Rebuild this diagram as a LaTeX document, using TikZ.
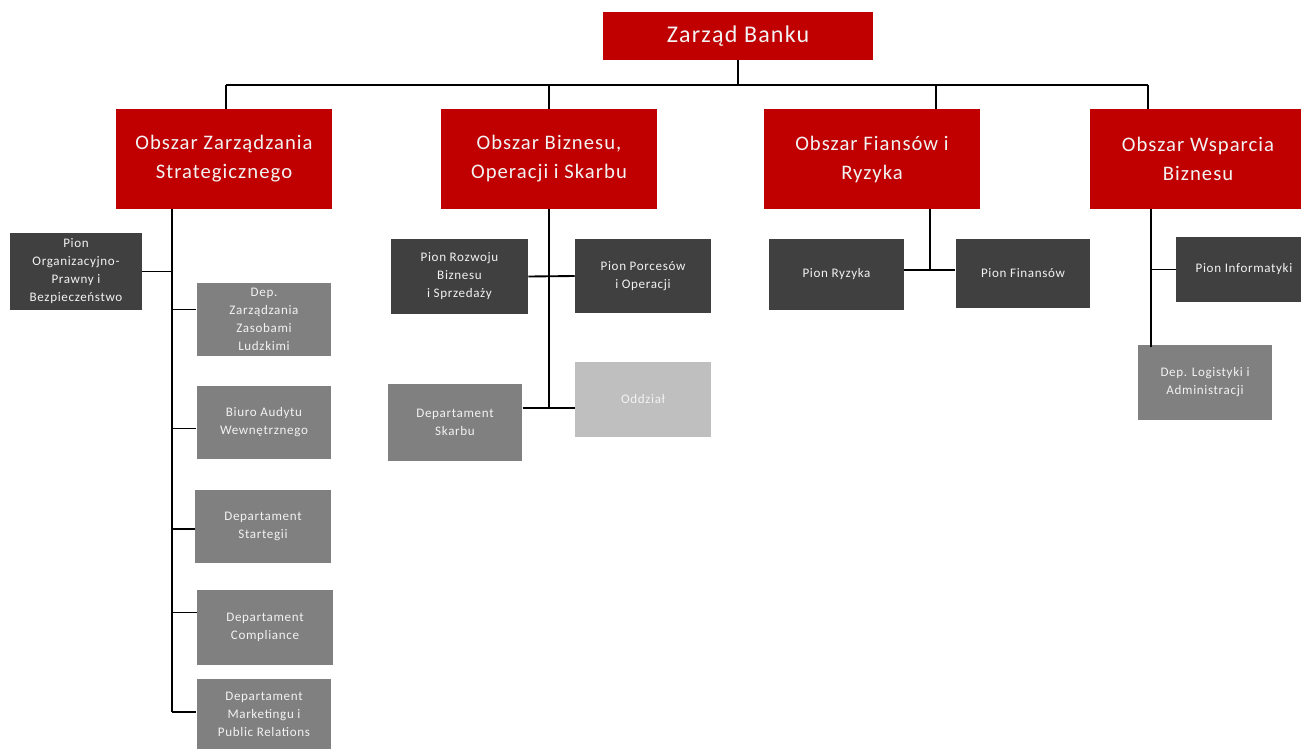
\documentclass[tikz,border=0pt]{standalone}
\usepackage{fontspec}
\setmainfont{Carlito}[LetterSpace=5]
\usepackage{tikz}
\usetikzlibrary{positioning,calc}
\definecolor{bankred}{RGB}{192, 0, 0}
\definecolor{piondark}{RGB}{64, 64, 64}
\definecolor{depgray}{RGB}{128, 128, 128}
\definecolor{deplight}{RGB}{191, 191, 191}
\definecolor{boxtext}{RGB}{242, 242, 242}

\begin{document}
\begin{tikzpicture}[x=0.75pt, y=-0.75pt,
  zarzad/.style={fill=bankred, text=boxtext, rectangle, inner sep=2pt, align=center, minimum width=202.5pt, minimum height=36pt, font=\fontsize{18}{22}\selectfont},
  obszar/.style={fill=bankred, text=boxtext, rectangle, inner sep=2pt, align=center, minimum width=162pt, minimum height=75pt, font=\fontsize{15.5}{21.75}\selectfont},
  pion/.style={fill=piondark, text=boxtext, rectangle, inner sep=2pt, align=center, minimum width=101pt, minimum height=55pt, font=\fontsize{9.8}{13.5}\selectfont},
  dep/.style={pion, fill=depgray},
  oddz/.style={pion, fill=deplight},
  conn/.style={draw=black, line width=1.4pt}
]
  \useasboundingbox (0,0) rectangle (1301,749);

  % Zarzad
  \node [zarzad] (zarzad) at (738,36) {Zarząd Banku};

  % Obszary
  \node [obszar] (obszar1) at (224,159) {Obszar Zarządzania\\Strategicznego};
  \node [obszar] (obszar2) at (549,159) {Obszar Biznesu,\\Operacji i Skarbu};
  \node [obszar] (obszar3) at (872,159) {Obszar Fiansów i\\Ryzyka};
  \node [obszar] (obszar4) at (1198,159) {Obszar Wsparcia\\Biznesu};

  % Obszar Zarzadzania Strategicznego
  \node [pion, minimum width=99pt, minimum height=58pt] (pionorg) at (76,271.5) {Pion\\Organizacyjno-\\Prawny i\\Bezpieczeństwo};
  \node [dep, minimum height=55pt] (depzzl) at (264,319.5) {Dep.\\Zarządzania\\Zasobami\\Ludzkimi};
  \node [dep, minimum height=55pt] (biuro) at (264,422.5) {Biuro Audytu\\Wewnętrznego};
  \node [dep, minimum width=102pt, minimum height=55pt] (depstrat) at (263,526.5) {Departament\\Startegii};
  \node [dep, minimum width=102pt, minimum height=56pt] (depcomp) at (265,627.5) {Departament\\Compliance};
  \node [dep, minimum height=53pt] (depmark) at (264,714) {Departament\\Marketingu i\\Public Relations};

  % Obszar Biznesu
  \node [pion, minimum width=103pt, minimum height=56pt] (pionrozw) at (459.5,276.5) {Pion Rozwoju\\Biznesu\\i Sprzedaży};
  \node [pion, minimum width=102pt] (pionproc) at (643,276) {Pion Porcesów\\i Operacji};
  \node [dep, minimum height=58pt] (depskarb) at (455,422.5) {Departament\\Skarbu};
  \node [oddz, minimum width=102pt, minimum height=56pt] (oddzial) at (643,399.5) {Oddział};

  % Obszar Finansow
  \node [pion, minimum width=101pt, minimum height=53pt] (pionryz) at (836.5,274.5) {Pion Ryzyka};
  \node [pion, minimum height=52pt] (pionfin) at (1023,273.5) {Pion Finansów};

  % Obszar Wsparcia
  \node [pion, minimum width=102pt, minimum height=49pt] (pioninf) at (1244,269.5) {Pion Informatyki};
  \node [dep, minimum height=56pt] (deplog) at (1205,382.5) {Dep. Logistyki i\\Administracji};

  % Szyna pod zarzadem
  \coordinate (b1) at (226,85);
  \coordinate (b2) at (549,85);
  \coordinate (b3) at (936,85);
  \coordinate (b4) at (1148,85);
  \draw [conn] (zarzad) -- (zarzad |- b1);
  \draw [conn] (b1) -- (b4);
  \draw [conn] (b1) -- (b1 |- obszar1.north);
  \draw [conn] (b2) -- (b2 |- obszar2.north);
  \draw [conn] (b3) -- (b3 |- obszar3.north);
  \draw [conn] (b4) -- (b4 |- obszar4.north);

  % Strategiczny
  \coordinate (t1) at (172,712);
  \draw [conn] (t1 |- obszar1.south) -- (t1);
  \draw [conn] (pionorg.east) -- (pionorg.east -| t1);
  \draw [conn] (t1 |- depzzl.west) ++(0,-10) -- ($(depzzl.west)+(0,-10)$);
  \draw [conn] (t1 |- biuro.west) ++(0,6) -- ($(biuro.west)+(0,6)$);
  \draw [conn] (t1 |- depstrat.west) ++(0,2.5) -- ($(depstrat.west)+(0,2.5)$);
  \draw [conn] (t1 |- depcomp.west) ++(0,-15) -- ($(depcomp.west)+(0,-15)$);
  \draw [conn] (t1) -- (t1 -| depmark.west);

  % Biznes
  \coordinate (t2) at (549,408);
  \draw [conn] (t2 |- obszar2.south) -- (t2);
  \draw [conn] (pionrozw.east) -- (pionproc.west);
  \draw [conn] (t2 -| depskarb.east) -- (t2 -| oddzial.west);

  % Finanse
  \coordinate (t3) at (930,270);
  \draw [conn] (t3 |- obszar3.south) -- (t3);
  \draw [conn] (pionryz.east |- t3) -- (pionfin.west |- t3);

  % Wsparcie
  \coordinate (t4) at (1151,347);
  \draw [conn] (t4 |- obszar4.south) -- (t4);
  \draw [conn] (t4 |- pioninf.west) -- (pioninf.west);

\end{tikzpicture}
\end{document}
